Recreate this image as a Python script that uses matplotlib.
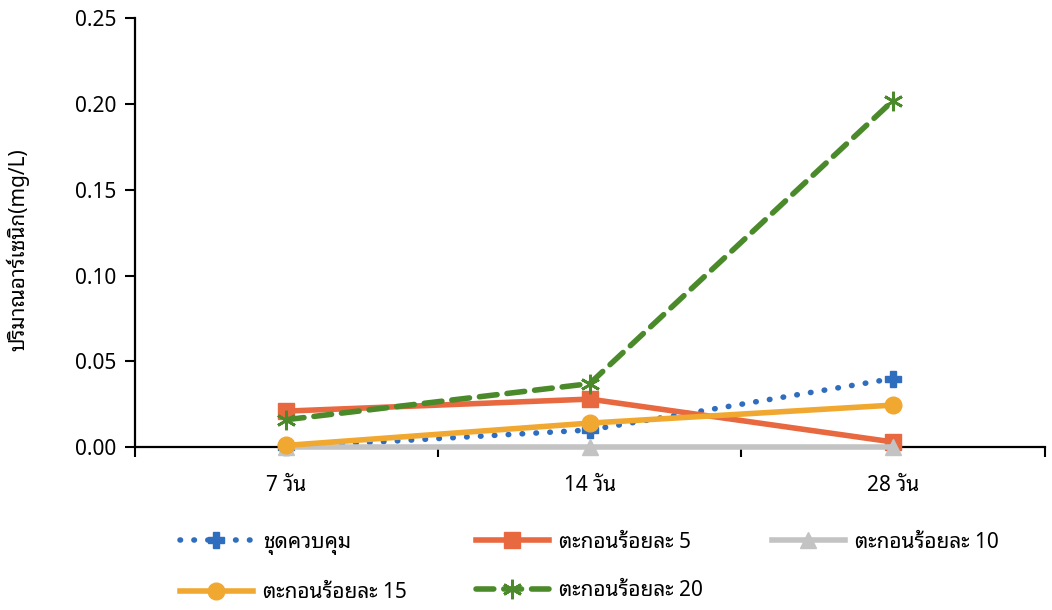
import matplotlib
matplotlib.use("Agg")
import matplotlib.pyplot as plt
import numpy as np

plt.rcParams['font.family'] = ['Noto Sans Thai Looped', 'Noto Sans', 'DejaVu Sans']

days = ['7 วัน', '14 วัน', '28 วัน']
control = [0.000, 0.010, 0.040]
sed5 = [0.021, 0.028, 0.003]
sed10 = [0.000, 0.000, 0.000]
sed15 = [0.001, 0.014, 0.0245]
sed20 = [0.016, 0.037, 0.202]

names = ['ชุดควบคุม', 'ตะกอนร้อยละ 5', 'ตะกอนร้อยละ 10', 'ตะกอนร้อยละ 15', 'ตะกอนร้อยละ 20']

x = np.arange(len(days))

fig = plt.figure(figsize=(10.52, 6.1), dpi=100)
ax = fig.add_axes([0.128, 0.267, 0.865, 0.703])

lw = 4
h_c, = ax.plot(x, control, color='#2F6EBF', lw=lw, linestyle=(0, (0.1, 2.4)),
               dash_capstyle='round', marker='P', markersize=11, label=names[0],
               clip_on=False)
h5, = ax.plot(x, sed5, color='#E8683F', lw=lw, marker='s', markersize=11,
              label=names[1], clip_on=False)
h10, = ax.plot(x, sed10, color='#C3C3C3', lw=lw, marker='^', markersize=11,
               label=names[2], clip_on=False)
h15, = ax.plot(x, sed15, color='#F0A830', lw=lw, marker='o', markersize=12,
               label=names[3], clip_on=False)
h20, = ax.plot(x, sed20, color='#4A8A2A', lw=lw, linestyle=(0, (3.2, 1.8)),
               dash_capstyle='round', marker=(6, 2, 0), markersize=14,
               markeredgewidth=2, label=names[4], clip_on=False)

ax.set_xlim(-0.5, 2.5)
ax.set_ylim(0, 0.25)
ax.set_yticks(np.arange(0, 0.2501, 0.05))
ax.yaxis.set_major_formatter(matplotlib.ticker.FormatStrFormatter('%.2f'))
ax.set_xticks(x)
ax.set_xticklabels(days)
ax.set_xticks([-0.5, 0.5, 1.5, 2.5], minor=True)
ax.tick_params(axis='x', which='major', length=0, pad=20, labelsize=15)
ax.tick_params(axis='x', which='minor', length=7, width=1.5, direction='out')
ax.tick_params(axis='y', length=7, width=1.5, direction='out', labelsize=15, pad=6)

for s in ['top', 'right']:
    ax.spines[s].set_visible(False)
for s in ['left', 'bottom']:
    ax.spines[s].set_linewidth(1.6)
    ax.spines[s].set_zorder(0)

ax.set_ylabel('ปริมาณอาร์เซนิก(mg/L)', fontsize=15)
ax.yaxis.set_label_coords(-0.116, 0.46)

fig.legend([h_c, h15, h5, h20, h10],
           [names[0], names[3], names[1], names[4], names[2]],
           loc='upper left', bbox_to_anchor=(0.163, 0.142), ncol=3,
           frameon=False, fontsize=15, handlelength=3.5, columnspacing=3.3,
           labelspacing=1.3, handletextpad=0.5, borderaxespad=0)

fig.savefig('out.png')
